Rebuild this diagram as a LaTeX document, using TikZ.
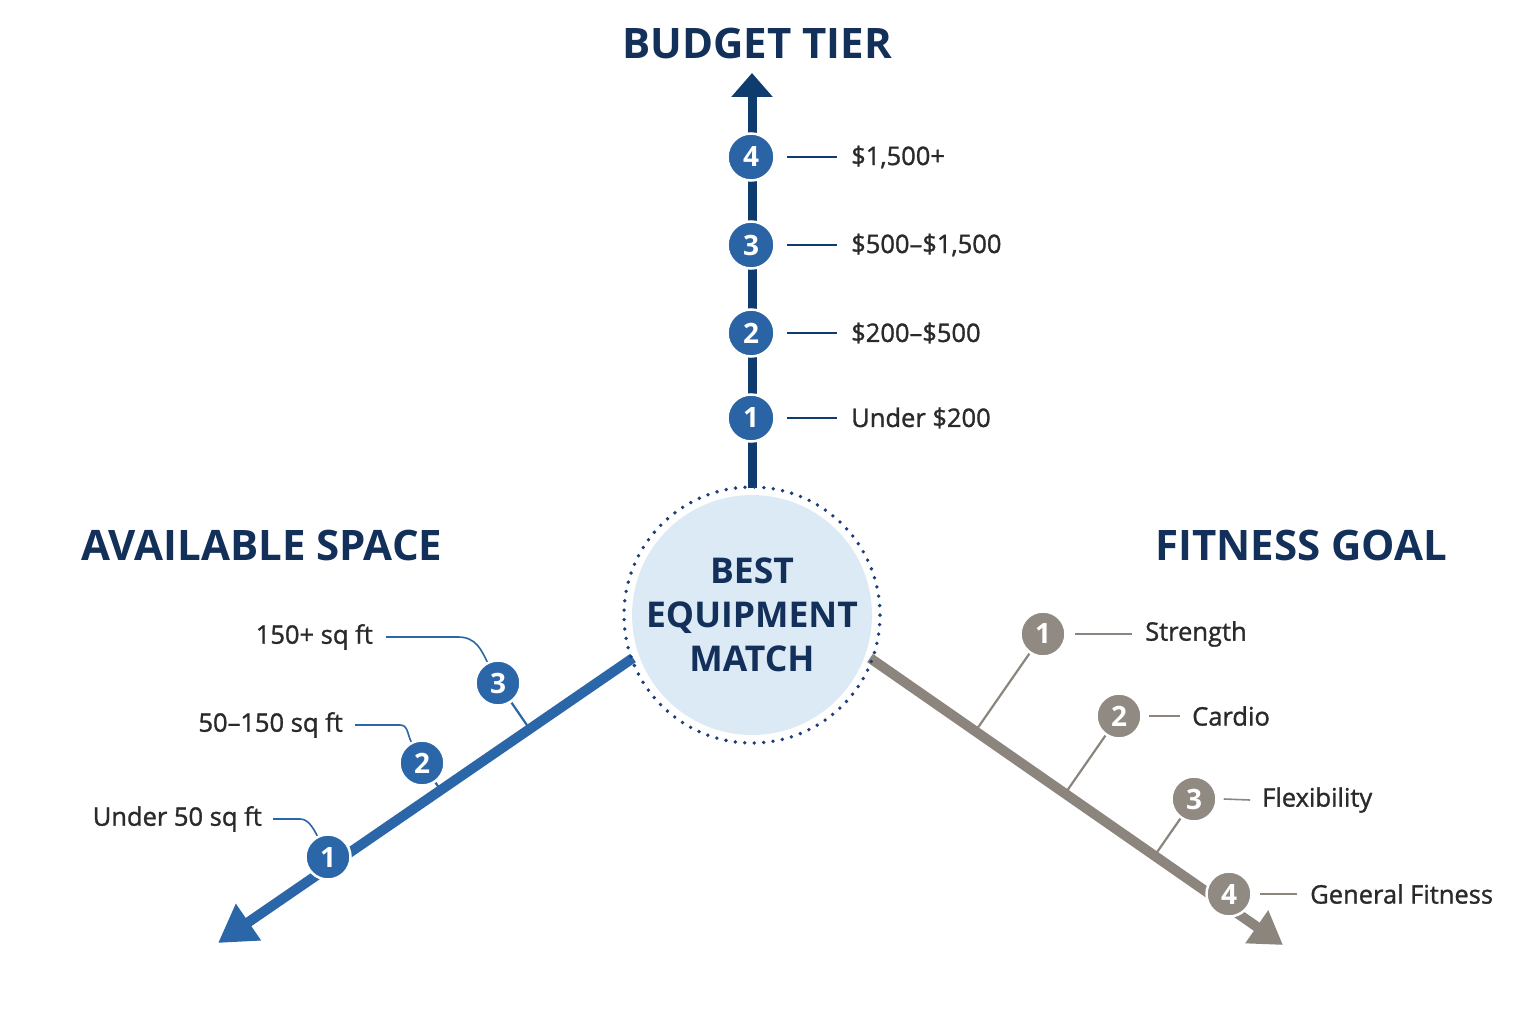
\documentclass[tikz,border=0pt]{standalone}
\usepackage{fontspec}
\setmainfont{Open Sans}
\newfontfamily\medfont[FakeBold=1.2]{Open Sans}
\usetikzlibrary{arrows.meta,calc}
\definecolor{navy}{HTML}{12305A}
\definecolor{navyaxis}{HTML}{0E3C6E}
\definecolor{blueC}{HTML}{2A64A4}
\definecolor{blueL}{HTML}{2B67A8}
\definecolor{grayC}{HTML}{918A83}
\definecolor{grayL}{HTML}{8C857E}
\definecolor{ctrfill}{HTML}{DCEAF6}
\definecolor{ringC}{HTML}{1D3F78}
\definecolor{txt}{HTML}{2A2A2A}
\begin{document}
\begin{tikzpicture}[x=1pt,y=-1pt,
  numc/.style={circle,draw=white,line width=2.5pt,minimum size=47pt,inner sep=0pt,text=white,font=\bfseries\fontsize{28}{28}\selectfont},
  bcirc/.style={numc,fill=blueC},
  gcirc/.style={numc,fill=grayC,minimum size=45pt},
  lbl/.style={text=txt,inner sep=0pt,font=\medfont\fontsize{25.5}{30}\selectfont},
  ttl/.style={text=navy,inner sep=0pt,font=\bfseries\fontsize{42}{46}\selectfont},
  bleader/.style={draw=navyaxis,line width=1.6pt},
  lleader/.style={draw=blueL,line width=1.6pt},
  gleader/.style={draw=grayL,line width=1.6pt},
  lstem/.style={draw=blueL,line width=2.2pt},
  gstem/.style={draw=grayL,line width=2.2pt}]
\useasboundingbox[fill=white] (0,0) rectangle (1536,1024);

% axes
\coordinate (vs) at (752,488); \coordinate (vt) at (752,73);
\coordinate (ls) at (633,658); \coordinate (lt) at (218,943);
\coordinate (rs) at (870,658); \coordinate (rt) at (1283,945);
\draw[navyaxis,line width=9pt,-{Triangle[length=24pt,width=40pt]}] (vs) -- (vt);
\draw[blueL,line width=10pt,-{Triangle[length=37pt,width=42pt]}] (ls) -- (lt);
\draw[grayL,line width=10pt,-{Triangle[length=32pt,width=38pt]}] (rs) -- (rt);

% center
\node[circle,fill=ctrfill,minimum size=236pt,inner sep=0pt,text=navy,align=center,
  font=\bfseries\fontsize{35.5}{44}\selectfont] (ctr) at (752,615) {BEST\\EQUIPMENT\\MATCH};
\draw[ringC,line width=3.8pt,line cap=round,dash pattern=on 0pt off 9.46pt] (ctr.center) circle[radius=128pt];

% titles
\node[ttl] (tb) at (757,44) {BUDGET TIER};
\node[ttl] (ts) at (262,545) {AVAILABLE SPACE};
\node[ttl] (tf) at (1301,545) {FITNESS GOAL};

% budget tier
\node[bcirc] (b4) at (751,157) {4};
\node[bcirc] (b3) at (751,245) {3};
\node[bcirc] (b2) at (751,333) {2};
\node[bcirc] (b1) at (751,418) {1};
\node[lbl,anchor=west] (lb4) at (851,157) {\$1,500+};
\node[lbl,anchor=west] (lb3) at (851,245) {\$500–\$1,500};
\node[lbl,anchor=west] (lb2) at (851,333) {\$200–\$500};
\node[lbl,anchor=west] (lb1) at (851,418) {Under \$200};
\foreach \i in {1,2,3,4}{
  \draw[bleader] ([xshift=11pt]b\i.east) -- ([xshift=-14pt]lb\i.west);
}

% available space
\coordinate (lp3) at (498,683);
\coordinate (lp2) at (422,763);
\draw[lstem] (lp3) -- ($(ls)!(lp3)!(lt)$);
\draw[lstem] (lp2) -- ($(ls)!(lp2)!(lt)$);
\node[bcirc,fill=blueL,minimum size=45pt] (l3) at (lp3) {3};
\node[bcirc,fill=blueL,minimum size=45pt] (l2) at (lp2) {2};
\node[bcirc,fill=blueL,minimum size=45pt] (l1) at (328,857) {1};
\node[lbl,anchor=east] (lab3) at (373,637) {150+ sq ft};
\node[lbl,anchor=east] (lab2) at (343,725) {50–150 sq ft};
\node[lbl,anchor=east] (lab1) at (262,819) {Under 50 sq ft};
\draw[lleader] ([xshift=13pt]lab3.east) -- ++(72,0) .. controls +(18,0) and +(-6,-12) .. (l3.117);
\draw[lleader] ([xshift=12pt]lab2.east) -- ++(45,0) .. controls +(8,0) and +(-4,-8) .. (l2.117);
\draw[lleader] ([xshift=11pt]lab1.east) -- ++(27,0) .. controls +(8,0) and +(-4,-8) .. (l1.117);

% fitness goal
\coordinate (gp1) at (1043,634);
\coordinate (gp2) at (1119,716);
\coordinate (gp3) at (1194,799);
\foreach \i in {1,2,3}{
  \draw[gstem] (gp\i) -- ($(rs)!(gp\i)!(rt)$);
}
\node[gcirc] (g1) at (gp1) {1};
\node[gcirc] (g2) at (gp2) {2};
\node[gcirc] (g3) at (gp3) {3};
\node[gcirc] (g4) at (1229,894) {4};
\node[lbl,anchor=west] (lg1) at (1145,634) {Strength};
\node[lbl,anchor=west] (lg2) at (1192,716) {Cardio};
\node[lbl,anchor=west] (lg3) at (1262,800) {Flexibility};
\node[lbl,anchor=west] (lg4) at (1310,894) {General Fitness};
\draw[gleader] ([xshift=8pt]g1.east) -- ([xshift=-13pt]lg1.west);
\draw[gleader] ([xshift=6pt]g2.east) -- ([xshift=-12pt]lg2.west);
\draw[gleader] ([xshift=6pt]g3.east) -- ([xshift=-12pt]lg3.west);
\draw[gleader] ([xshift=7pt]g4.east) -- ([xshift=-13pt]lg4.west);
\end{tikzpicture}
\end{document}
